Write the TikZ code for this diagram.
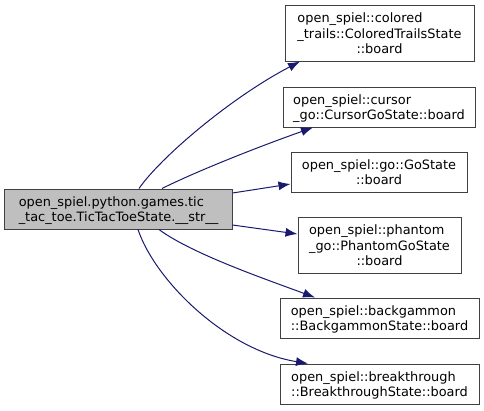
\documentclass[tikz,border=0pt]{standalone}
\usepackage{fontspec}
\setmainfont{DejaVu Sans}
\usetikzlibrary{arrows.meta}
\definecolor{cedge}{HTML}{191970}
\definecolor{cline}{HTML}{404040}
\definecolor{cmain}{HTML}{BFBFBF}
% label: left-set lines, last line centred
\newcommand{\dlabel}[2]{\raisebox{-2bp}[\height][\depth]{\begin{tabular}{@{}l@{}}#1\\\multicolumn{1}{@{}c@{}}{#2}\end{tabular}}}
\tikzset{
  every picture/.style={font=\fontsize{12.9bp}{15.5bp}\selectfont, x=1bp, y=-1bp},
  fn/.style={draw=cline, fill=#1, line width=1bp, inner sep=0pt, minimum height=40bp},
  fn/.default=white,
  arrow/.style={-{Latex[length=12bp,width=9bp]}, draw=cedge, line width=1bp},
}
\begin{document}
\begin{tikzpicture}[tall/.style={fn, minimum height=56bp}]
  \useasboundingbox (0,0) rectangle (484,410);
  \node[fn=cmain, minimum width=227bp] (main) at (118.5,209)
    {\dlabel{open\_spiel.python.games.tic}{\_tac\_toe.TicTacToeState.\_\_str\_\_}};
  \node[tall, minimum width=189bp] (colored) at (379.5,33)
    {\dlabel{open\_spiel::colored\\\_trails::ColoredTrailsState}{::board}};
  \node[fn, minimum width=192bp] (cursor) at (379,107)
    {\dlabel{open\_spiel::cursor}{\_go::CursorGoState::board}};
  \node[fn, minimum width=176bp] (go) at (379,172)
    {\dlabel{open\_spiel::go::GoState}{::board}};
  \node[tall, minimum width=163bp] (phantom) at (379.5,245)
    {\dlabel{open\_spiel::phantom\\\_go::PhantomGoState}{::board}};
  \node[fn, minimum width=199bp] (backgammon) at (379.5,318)
    {\dlabel{open\_spiel::backgammon}{::BackgammonState::board}};
  \node[fn, minimum width=199bp] (breakthrough) at (379.5,384)
    {\dlabel{open\_spiel::breakthrough}{::BreakthroughState::board}};
  % calls
  \draw[arrow] ([xshift=20.5bp]main.north) .. controls (160,158) and (230,98) .. ([xshift=-79.5bp]colored.south);
  \draw[arrow] ([xshift=43.5bp]main.north) .. controls (195,172) and (255,148) .. ([xshift=-66bp]cursor.south);
  \draw[arrow] ([yshift=16bp]main.east) -- ([yshift=-12bp]go.west);
  \draw[arrow] ([yshift=-16bp]main.east) -- ([yshift=11bp]phantom.west);
  \draw[arrow] ([xshift=40.5bp]main.south) .. controls (192,254) and (268,280) .. ([xshift=-64.5bp]backgammon.north);
  \draw[arrow] ([xshift=19.5bp]main.south) .. controls (155,280) and (225,350) .. ([xshift=-71.5bp]breakthrough.north);
\end{tikzpicture}
\end{document}
